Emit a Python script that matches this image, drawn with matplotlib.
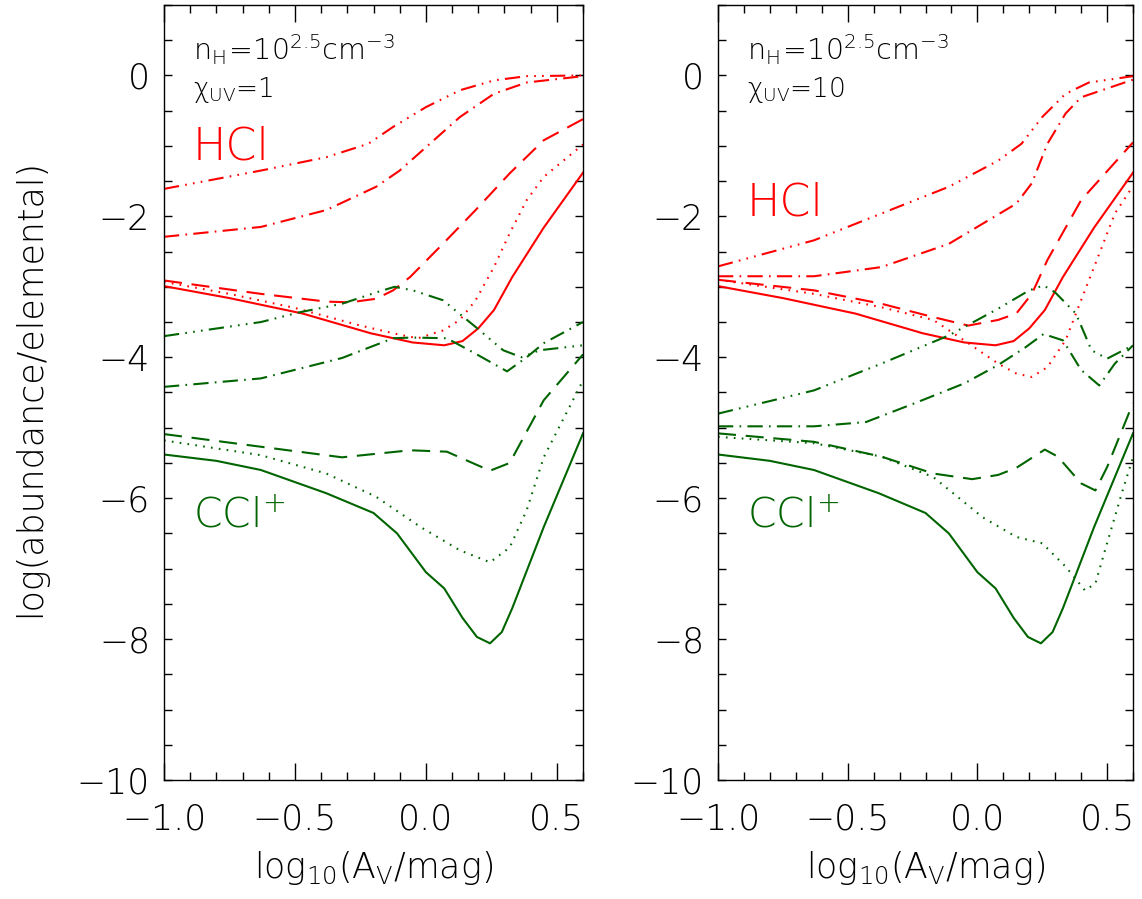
import matplotlib
matplotlib.use("Agg")
import matplotlib.pyplot as plt
from matplotlib.ticker import MultipleLocator

plt.rcParams['font.family'] = ['DejaVu Sans']
plt.rcParams['font.weight'] = 200
plt.rcParams['mathtext.fontset'] = 'custom'
plt.rcParams['mathtext.rm'] = 'DejaVu Sans:weight=200'
plt.rcParams['mathtext.it'] = 'DejaVu Sans:weight=200'
plt.rcParams['lines.scale_dashes'] = False

RED = '#ff0000'
GREEN = '#006400'

# solid curves are the same for both chi_UV values
hcl_solid_x = [-1.0, -0.75, -0.47, -0.21, -0.05, 0.07, 0.14, 0.20, 0.26, 0.33, 0.45, 0.6]
hcl_solid_y = [-2.99, -3.16, -3.38, -3.66, -3.79, -3.83, -3.77, -3.59, -3.33, -2.86, -2.16, -1.38]
ccl_solid_x = [-1.0, -0.8, -0.63, -0.38, -0.2, -0.11, 0.0, 0.07, 0.14, 0.195, 0.245, 0.29, 0.33, 0.45, 0.6]
ccl_solid_y = [-5.38, -5.47, -5.6, -5.93, -6.21, -6.5, -7.05, -7.28, -7.7, -7.97, -8.06, -7.9, -7.56, -6.41, -5.08]

# chi_UV = 1
hcl1_dot_x = [-1.0, -0.75, -0.5, -0.25, -0.1, -0.03, 0.065, 0.13, 0.19, 0.26, 0.32, 0.385, 0.45, 0.6]
hcl1_dot_y = [-2.93, -3.1, -3.3, -3.55, -3.68, -3.73, -3.62, -3.47, -3.19, -2.72, -2.24, -1.77, -1.44, -0.98]
hcl1_dash_x = [-1.0, -0.63, -0.38, -0.29, -0.19, -0.125, -0.06, 0.065, 0.19, 0.32, 0.45, 0.6]
hcl1_dash_y = [-2.91, -3.1, -3.21, -3.22, -3.17, -3.05, -2.86, -2.39, -1.91, -1.39, -0.92, -0.62]
hcl1_dd_x = [-1.0, -0.63, -0.38, -0.19, -0.1, 0.0, 0.13, 0.26, 0.385, 0.6]
hcl1_dd_y = [-2.29, -2.15, -1.91, -1.58, -1.35, -1.02, -0.59, -0.26, -0.1, -0.01]
hcl1_d3_x = [-1.0, -0.63, -0.38, -0.22, -0.125, 0.0, 0.13, 0.26, 0.385, 0.6]
hcl1_d3_y = [-1.61, -1.35, -1.16, -0.97, -0.73, -0.45, -0.21, -0.07, -0.01, 0.0]

ccl1_dot_x = [-1.0, -0.63, -0.38, -0.19, -0.02, 0.13, 0.245, 0.32, 0.385, 0.45, 0.6]
ccl1_dot_y = [-5.18, -5.39, -5.65, -5.98, -6.41, -6.74, -6.91, -6.7, -6.17, -5.42, -4.33]
ccl1_dash_x = [-1.0, -0.63, -0.32, -0.06, 0.08, 0.245, 0.32, 0.45, 0.6]
ccl1_dash_y = [-5.09, -5.27, -5.42, -5.32, -5.34, -5.61, -5.5, -4.61, -3.96]
ccl1_dd_x = [-1.0, -0.63, -0.32, -0.125, -0.05, 0.08, 0.19, 0.31, 0.385, 0.45, 0.6]
ccl1_dd_y = [-4.42, -4.3, -4.01, -3.73, -3.72, -3.73, -3.95, -4.2, -4.0, -3.8, -3.5]
ccl1_d3_x = [-1.0, -0.63, -0.48, -0.32, -0.19, -0.12, -0.05, 0.065, 0.19, 0.295, 0.365, 0.435, 0.6]
ccl1_d3_y = [-3.7, -3.5, -3.36, -3.24, -3.08, -3.0, -3.05, -3.19, -3.57, -3.9, -4.0, -3.9, -3.83]

# chi_UV = 10
hcl10_dot_x = [-1.0, -0.63, -0.37, -0.17, -0.035, 0.08, 0.15, 0.21, 0.27, 0.34, 0.4, 0.47, 0.53, 0.6]
hcl10_dot_y = [-2.9, -3.1, -3.29, -3.47, -3.8, -4.09, -4.23, -4.28, -4.14, -3.76, -3.19, -2.53, -1.96, -1.57]
hcl10_dash_x = [-1.0, -0.63, -0.37, -0.17, -0.035, 0.08, 0.15, 0.21, 0.27, 0.4, 0.6]
hcl10_dash_y = [-2.9, -3.05, -3.24, -3.43, -3.55, -3.47, -3.38, -3.1, -2.62, -1.77, -0.95]
hcl10_dd_x = [-1.0, -0.63, -0.37, -0.11, 0.15, 0.21, 0.27, 0.34, 0.4, 0.6]
hcl10_dd_y = [-2.85, -2.85, -2.72, -2.39, -1.82, -1.53, -0.97, -0.54, -0.31, -0.06]
hcl10_d3_x = [-1.0, -0.63, -0.37, -0.11, 0.08, 0.17, 0.25, 0.34, 0.43, 0.6]
hcl10_d3_y = [-2.71, -2.34, -1.96, -1.58, -1.21, -0.97, -0.59, -0.26, -0.1, -0.01]

ccl10_dot_x = [-1.0, -0.63, -0.37, -0.17, 0.02, 0.15, 0.25, 0.34, 0.415, 0.455, 0.5, 0.56, 0.6]
ccl10_dot_y = [-5.13, -5.22, -5.41, -5.7, -6.27, -6.55, -6.64, -6.97, -7.31, -7.21, -6.64, -5.89, -5.42]
ccl10_dash_x = [-1.0, -0.63, -0.37, -0.17, -0.02, 0.08, 0.15, 0.26, 0.31, 0.4, 0.455, 0.5, 0.6]
ccl10_dash_y = [-5.08, -5.2, -5.41, -5.65, -5.73, -5.67, -5.57, -5.31, -5.41, -5.79, -5.89, -5.56, -4.65]
ccl10_dd_x = [-1.0, -0.63, -0.43, -0.24, -0.05, 0.08, 0.185, 0.255, 0.33, 0.4, 0.47, 0.53, 0.6]
ccl10_dd_y = [-4.98, -4.98, -4.92, -4.65, -4.37, -4.11, -3.86, -3.67, -3.76, -4.18, -4.4, -4.09, -3.83]
ccl10_d3_x = [-1.0, -0.63, -0.37, -0.11, 0.08, 0.2, 0.255, 0.3, 0.38, 0.44, 0.5, 0.6]
ccl10_d3_y = [-4.8, -4.47, -4.09, -3.69, -3.31, -3.05, -2.98, -3.08, -3.38, -3.9, -4.02, -3.83]

chi_labels = ['1', '10']

# IDL-like line styles (in points)
styles = {
    'solid': '-',
    'dot': (0, (1.2, 4.5)),
    'dash': (0, (13, 7)),
    'dd': (0, (11, 4.5, 1.2, 4.5)),
    'd3': (0, (11, 4.5, 1.2, 4.5, 1.2, 4.5, 1.2, 4.5)),
}

panels = [
    {'hcl': [(hcl_solid_x, hcl_solid_y, 'solid'), (hcl1_dot_x, hcl1_dot_y, 'dot'),
             (hcl1_dash_x, hcl1_dash_y, 'dash'), (hcl1_dd_x, hcl1_dd_y, 'dd'),
             (hcl1_d3_x, hcl1_d3_y, 'd3')],
     'ccl': [(ccl_solid_x, ccl_solid_y, 'solid'), (ccl1_dot_x, ccl1_dot_y, 'dot'),
             (ccl1_dash_x, ccl1_dash_y, 'dash'), (ccl1_dd_x, ccl1_dd_y, 'dd'),
             (ccl1_d3_x, ccl1_d3_y, 'd3')],
     'hcl_y': -1.2},
    {'hcl': [(hcl_solid_x, hcl_solid_y, 'solid'), (hcl10_dot_x, hcl10_dot_y, 'dot'),
             (hcl10_dash_x, hcl10_dash_y, 'dash'), (hcl10_dd_x, hcl10_dd_y, 'dd'),
             (hcl10_d3_x, hcl10_d3_y, 'd3')],
     'ccl': [(ccl_solid_x, ccl_solid_y, 'solid'), (ccl10_dot_x, ccl10_dot_y, 'dot'),
             (ccl10_dash_x, ccl10_dash_y, 'dash'), (ccl10_dd_x, ccl10_dd_y, 'dd'),
             (ccl10_d3_x, ccl10_d3_y, 'd3')],
     'hcl_y': -1.99},
]

W, H = 1142, 899
fig = plt.figure(figsize=(W / 100, H / 100), dpi=100)
lefts = [164, 718]
widths = [419, 415]

for i, p in enumerate(panels):
    ax = fig.add_axes([lefts[i] / W, 1 - 780 / H, widths[i] / W, 775 / H])
    for x, y, st in p['hcl']:
        ax.plot(x, y, color=RED, lw=1.5, linestyle=styles[st])
    for x, y, st in p['ccl']:
        ax.plot(x, y, color=GREEN, lw=1.5, linestyle=styles[st])

    ax.set_xlim(-1.0, 0.6)
    ax.set_ylim(-10, 1)
    ax.xaxis.set_major_locator(MultipleLocator(0.5))
    ax.xaxis.set_minor_locator(MultipleLocator(0.1))
    ax.yaxis.set_major_locator(MultipleLocator(2))
    ax.yaxis.set_minor_locator(MultipleLocator(0.5))
    ax.xaxis.set_major_formatter(lambda v, pos: f"{v:.1f}".replace('-', '\u2212'))
    ax.tick_params(which='both', direction='in', top=True, right=True, colors='black',
                   labelsize=25, width=1)
    ax.tick_params(axis='x', which='major', length=12, pad=16)
    ax.tick_params(axis='x', which='minor', length=6)
    ax.tick_params(axis='y', which='both', length=6, pad=10)
    for s in ax.spines.values():
        s.set_linewidth(1)

    ax.text(-0.89, 0.21, r'$\mathregular{n_H\!=\!10^{2.5}cm^{-3}}$', fontsize=20.5, va='baseline')
    ax.text(-0.89, -0.31, '\u03c7' + r'$_{\mathregular{UV}}$=' + chi_labels[i],
            fontsize=19, va='baseline')
    ax.text(-0.89, p['hcl_y'], 'HCl', color=RED, fontsize=32, va='baseline')
    ax.text(-0.89, -6.41, r'CCl$^{\mathregular{+}}$', color=GREEN, fontsize=29.5, va='baseline')

    fig.text((lefts[i] + widths[i] / 2) / W, 1 - 868 / H,
             r'$\mathregular{log_{10}(A_V/mag)}$', fontsize=25, ha='center', va='center')

fig.text(30 / W, 1 - 388 / H, 'log(abundance/elemental)', fontsize=25,
         rotation=90, ha='center', va='center')

fig.savefig('out.png', dpi=100)
